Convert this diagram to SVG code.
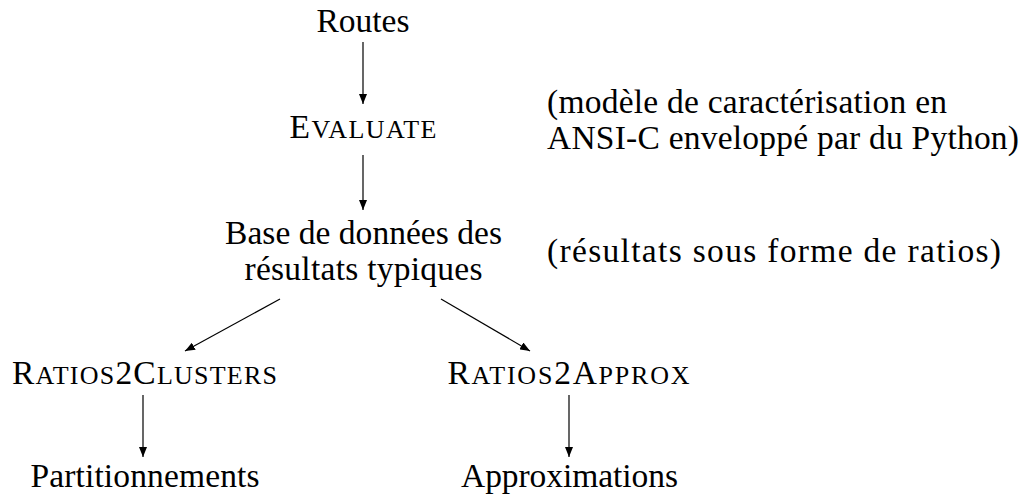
<svg xmlns="http://www.w3.org/2000/svg" width="1021" height="498" viewBox="0 0 1021 498">
<style>
text{font-family:"Liberation Serif","Times New Roman",serif;font-size:33.5px;fill:#000}
.sc{font-size:26px}
.c{text-anchor:middle}
.edge{stroke:#000;stroke-width:1.2;fill:none;marker-end:url(#ah)}
</style>
<defs>
<marker id="ah" viewBox="0 0 10 8" refX="10" refY="4" markerWidth="10" markerHeight="8" markerUnits="userSpaceOnUse" orient="auto">
<path d="M0,0 L10,4 L0,8 Z" fill="#000"/>
</marker>
</defs>
<rect width="1021" height="498" fill="#fff"/>
<g id="connectors">
<line class="edge" x1="363" y1="42" x2="363" y2="104"/>
<line class="edge" x1="363" y1="155" x2="363" y2="210"/>
<line class="edge" x1="280" y1="299" x2="185" y2="351"/>
<line class="edge" x1="441" y1="299" x2="530" y2="351"/>
<line class="edge" x1="143" y1="395" x2="143" y2="457"/>
<line class="edge" x1="569" y1="395" x2="569" y2="457"/>
</g>
<g id="routes"><text class="c" x="363" y="32" textLength="93">Routes</text></g>
<g id="evaluate"><text class="c" x="363" y="138" textLength="147">E<tspan class="sc">VALUATE</tspan></text></g>
<g id="base"><text class="c" x="363.5" y="244" textLength="277">Base de données des</text><text class="c" x="363.5" y="280" textLength="238">résultats typiques</text></g>
<g id="note-evaluate"><text x="547" y="113" textLength="400">(modèle de caractérisation en</text><text x="547" y="149" textLength="472">ANSI-C enveloppé par du Python)</text></g>
<g id="note-base"><text x="547" y="262" textLength="454">(résultats sous forme de ratios)</text></g>
<g id="ratios2clusters"><text class="c" x="144.5" y="384" textLength="265">R<tspan class="sc">ATIOS</tspan>2C<tspan class="sc">LUSTERS</tspan></text></g>
<g id="ratios2approx"><text class="c" x="568.5" y="384" textLength="242">R<tspan class="sc">ATIOS</tspan>2A<tspan class="sc">PPROX</tspan></text></g>
<g id="partitionnements"><text class="c" x="145" y="487" textLength="229">Partitionnements</text></g>
<g id="approximations"><text class="c" x="569.5" y="487" textLength="217">Approximations</text></g>
</svg>
